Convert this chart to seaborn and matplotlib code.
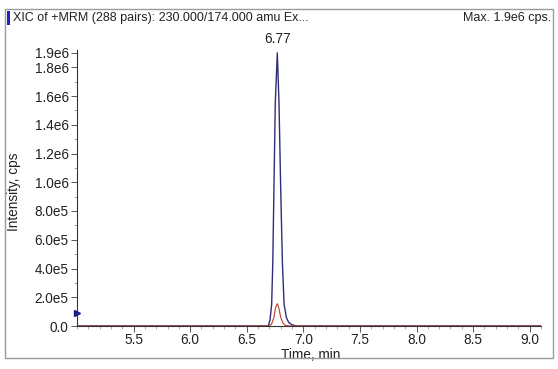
import matplotlib
matplotlib.use('Agg')
import matplotlib.pyplot as plt
import seaborn as sns
from matplotlib.patches import Rectangle
from matplotlib.ticker import MultipleLocator, FixedLocator

# trace values
time_blue = [5.00, 6.69, 6.705, 6.72, 6.73, 6.74, 6.752, 6.77, 6.785, 6.80, 6.815, 6.83, 6.85, 6.87, 6.90, 6.94, 9.10]
int_blue = [0, 0, 4e4, 1.5e5, 4.4e5, 9.5e5, 1.55e6, 1.9e6, 1.55e6, 9.5e5, 4.4e5, 1.5e5, 6e4, 2.5e4, 8e3, 0, 0]

time_red = [5.00, 6.70, 6.72, 6.74, 6.755, 6.77, 6.785, 6.80, 6.82, 6.84, 6.87, 9.10]
int_red = [0, 0, 1.5e4, 6e4, 1.3e5, 1.55e5, 1.2e5, 6e4, 2e4, 5e3, 0, 0]

x_ticks = [5.5, 6.0, 6.5, 7.0, 7.5, 8.0, 8.5, 9.0]
y_ticks = [0, 2e5, 4e5, 6e5, 8e5, 1.0e6, 1.2e6, 1.4e6, 1.6e6, 1.8e6, 1.9e6]
y_labels = ['0.0', '2.0e5', '4.0e5', '6.0e5', '8.0e5', '1.0e6', '1.2e6', '1.4e6', '1.6e6', '1.8e6', '1.9e6']

peak_time = 6.77
peak_int = 1.9e6

sns.set_style('white')
plt.rcParams['font.family'] = ['Liberation Sans', 'DejaVu Sans']

fig = plt.figure(figsize=(5.58, 3.69), dpi=100)
ax = fig.add_axes([77/558, 1-326/369, (541-77)/558, (326-50)/369])

sns.lineplot(x=time_blue, y=int_blue, color='#2e2e7a', lw=1.0, ax=ax)
sns.lineplot(x=time_red, y=int_red, color='#c0392b', lw=0.8, ax=ax)

ax.set_xlim(5.0, 9.1)
ax.set_ylim(0, 1.92e6)
ax.xaxis.set_major_locator(FixedLocator(x_ticks))
ax.xaxis.set_minor_locator(MultipleLocator(0.1))
ax.yaxis.set_major_locator(FixedLocator(y_ticks))
ax.set_yticklabels(y_labels)
ax.yaxis.set_minor_locator(MultipleLocator(1e5))

for s in ['top', 'right']:
    ax.spines[s].set_visible(False)
for s in ['left', 'bottom']:
    ax.spines[s].set_color('#333333')
    ax.spines[s].set_linewidth(0.8)
ax.tick_params(which='major', direction='out', length=4, width=0.7, color='#555555',
               labelsize=9.8, labelcolor='#222222', left=True, bottom=True, pad=2)
ax.tick_params(axis='x', which='major', pad=1)
ax.tick_params(which='minor', direction='out', length=2, width=0.5, color='#888888',
               left=True, bottom=True)

ax.set_xlabel('Time, min', fontsize=9.8, color='#222222')
ax.xaxis.set_label_coords((311-77)/464, -0.08)
ax.set_ylabel('Intensity, cps', fontsize=9.8, color='#222222')
ax.yaxis.set_label_coords(-(77-21)/464, 0.485)

# peak apex label
ax.annotate(f'{peak_time:.2f}', xy=(peak_time, peak_int), xytext=(0, 5),
            textcoords='offset points', ha='center', va='bottom', fontsize=9.8, color='#222222')

# left marker triangle
ax.plot([5.0], [9e4], marker='>', color='#1a1a8c', ms=4, clip_on=False)

# outer frame, title strip
fig.patches.append(Rectangle((5/558, 1-358/369), 548/558, 349/369, transform=fig.transFigure,
                             fill=False, edgecolor='#9a9a9a', lw=1.0))
fig.patches.append(Rectangle((7/558, 1-25/369), 3/558, 14/369, transform=fig.transFigure,
                             facecolor='#2020c8', edgecolor='none'))
fig.text(13/558, 1-18/369, 'XIC of +MRM (288 pairs): 230.000/174.000 amu Ex...',
         fontsize=9, va='center', ha='left', color='#222222')
fig.text(551/558, 1-18/369, 'Max. 1.9e6 cps.', fontsize=9, va='center', ha='right', color='#222222')

fig.savefig('out.png', dpi=100)
